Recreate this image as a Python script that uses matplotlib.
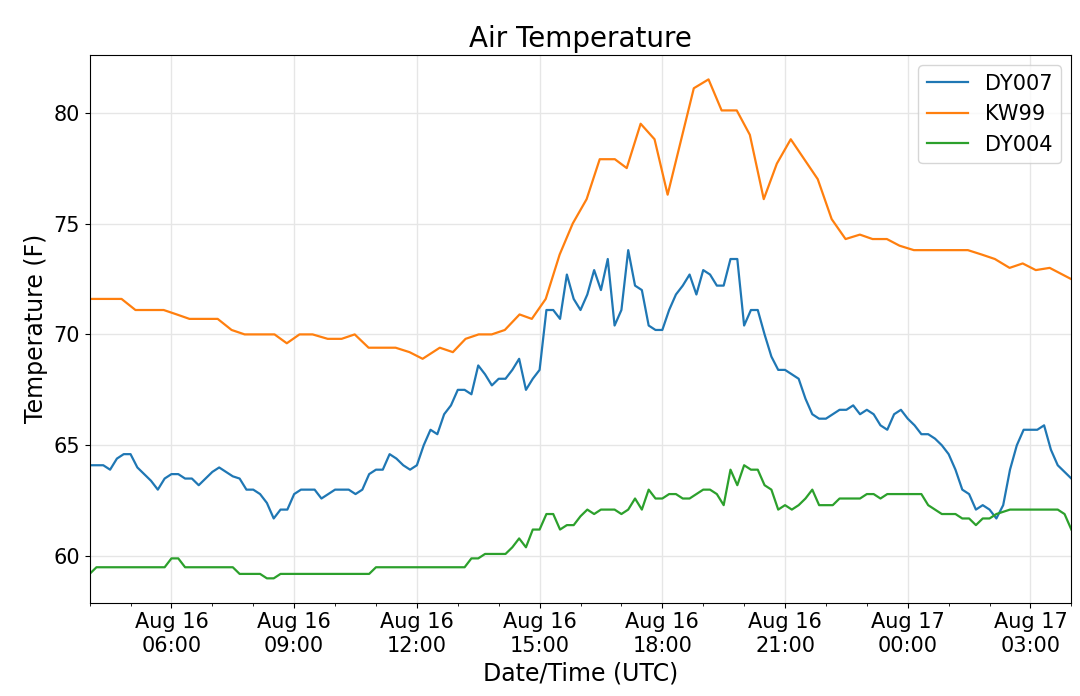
import matplotlib
matplotlib.use("Agg")
import matplotlib.pyplot as plt
import matplotlib.dates as mdates
import pandas as pd
import numpy as np

start = pd.Timestamp("2023-08-16 04:00")

dy007 = [64.1,64.1,64.1,63.9,64.4,64.6,64.6,64.0,63.7,63.4,63.0,63.5,63.7,63.7,63.5,63.5,63.2,63.5,63.8,64.0,
         63.8,63.6,63.5,63.0,63.0,62.8,62.4,61.7,62.1,62.1,62.8,63.0,63.0,63.0,62.6,62.8,63.0,63.0,63.0,62.8,
         63.0,63.7,63.9,63.9,64.6,64.4,64.1,63.9,64.1,65.0,65.7,65.5,66.4,66.8,67.5,67.5,67.3,68.6,68.2,67.7,
         68.0,68.0,68.4,68.9,67.5,68.0,68.4,71.1,71.1,70.7,72.7,71.6,71.1,71.8,72.9,72.0,73.4,70.4,71.1,73.8,
         72.2,72.0,70.4,70.2,70.2,71.1,71.8,72.2,72.7,71.8,72.9,72.7,72.2,72.2,73.4,73.4,70.4,71.1,71.1,70.0,
         69.0,68.4,68.4,68.2,68.0,67.1,66.4,66.2,66.2,66.4,66.6,66.6,66.8,66.4,66.6,66.4,65.9,65.7,66.4,66.6,
         66.2,65.9,65.5,65.5,65.3,65.0,64.6,63.9,63.0,62.8,62.1,62.3,62.1,61.7,62.3,63.9,65.0,65.7,65.7,65.7,
         65.9,64.8,64.1,63.8,63.5]

dy004 = [59.2] + [59.5]*11 + [59.9,59.9] + [59.5]*8 + [59.2]*4 + [59.0,59.0] + [59.2]*14 + [59.5]*14 + \
        [59.9,59.9,60.1,60.1,60.1,60.1,60.4,60.8,60.4,61.2,61.2,61.9,61.9,61.2,61.4,61.4,61.8,62.1,61.9,62.1,
         62.1,62.1,61.9,62.1,62.6,62.1,63.0,62.6,62.6,62.8,62.8,62.6,62.6,62.8,63.0,63.0,62.8,62.3,63.9,63.2,
         64.1,63.9,63.9,63.2,63.0,62.1,62.3,62.1,62.3,62.6,63.0,62.3,62.3,62.3,62.6,62.6,62.6,62.6,62.8,62.8,
         62.6] + [62.8]*6 + [62.3,62.1,61.9,61.9,61.9,61.7,61.7,61.4,61.7,61.7,61.9,62.0] + [62.1]*8 + [61.9,61.2]

kw99_hours = [0,0.78,1.12,1.81,2.13,2.44,3.13,3.47,3.79,4.52,4.82,5.13,5.45,5.82,6.16,6.48,6.82,7.48,7.82,8.14,
              8.56,8.88,9.19,9.51,9.83,10.15,10.51,10.81,11.15,11.49,11.81,12.15,12.47,12.84,13.13,13.47,13.81,
              14.13,14.77,15.13,15.45,15.82,16.14,16.48,16.80,17.14,17.80,18.14,18.48,18.83,19.14,19.49,19.80,
              20.15,21.47,21.81,22.13,22.49,22.81,23.13,23.47,23.99]
kw99 = [71.6,71.6,71.1,71.1,70.9,70.7,70.7,70.2,70.0,70.0,69.6,70.0,70.0,69.8,69.8,70.0,69.4,69.4,69.2,68.9,
        69.4,69.2,69.8,70.0,70.0,70.2,70.9,70.7,71.6,73.6,75.0,76.1,77.9,77.9,77.5,79.5,78.8,
        76.3,81.1,81.5,80.1,80.1,79.0,76.1,77.7,78.8,77.0,75.2,74.3,74.5,74.3,74.3,74.0,
        73.8,73.8,73.6,73.4,73.0,73.2,72.9,73.0,72.5]

t007 = pd.date_range(start, periods=len(dy007), freq="10min")
t004 = pd.date_range(start, periods=len(dy004), freq="10min")
tkw = start + pd.to_timedelta(np.array(kw99_hours), unit="h")

fig = plt.figure(figsize=(10.8, 6.96), dpi=100)
ax = fig.add_axes([0.083, 0.134, 0.909, 0.787])
ax.plot(t007, dy007, color="#1f77b4", lw=1.6, label="DY007")
ax.plot(tkw, kw99, color="#ff7f0e", lw=1.6, label="KW99")
ax.plot(t004, dy004, color="#2ca02c", lw=1.6, label="DY004")

ax.set_xlim(start, start + pd.Timedelta(hours=24))
ax.set_ylim(57.9, 82.6)
ax.set_yticks([60, 65, 70, 75, 80])
ax.xaxis.set_major_locator(mdates.HourLocator(byhour=[0, 3, 6, 9, 12, 15, 18, 21]))
ax.xaxis.set_minor_locator(mdates.HourLocator())
ax.xaxis.set_major_formatter(mdates.DateFormatter("%b %d\n%H:%M"))
ax.tick_params(axis="both", labelsize=15)
for lbl in ax.get_xticklabels():
    lbl.set_horizontalalignment("center")
ax.grid(True, color="#e6e6e6", lw=1)
ax.set_title("Air Temperature", fontsize=20)
ax.set_xlabel("Date/Time (UTC)", fontsize=17)
ax.set_ylabel("Temperature (F)", fontsize=17)
ax.legend(loc="upper right", fontsize=15)
fig.savefig("out.png", dpi=100)
